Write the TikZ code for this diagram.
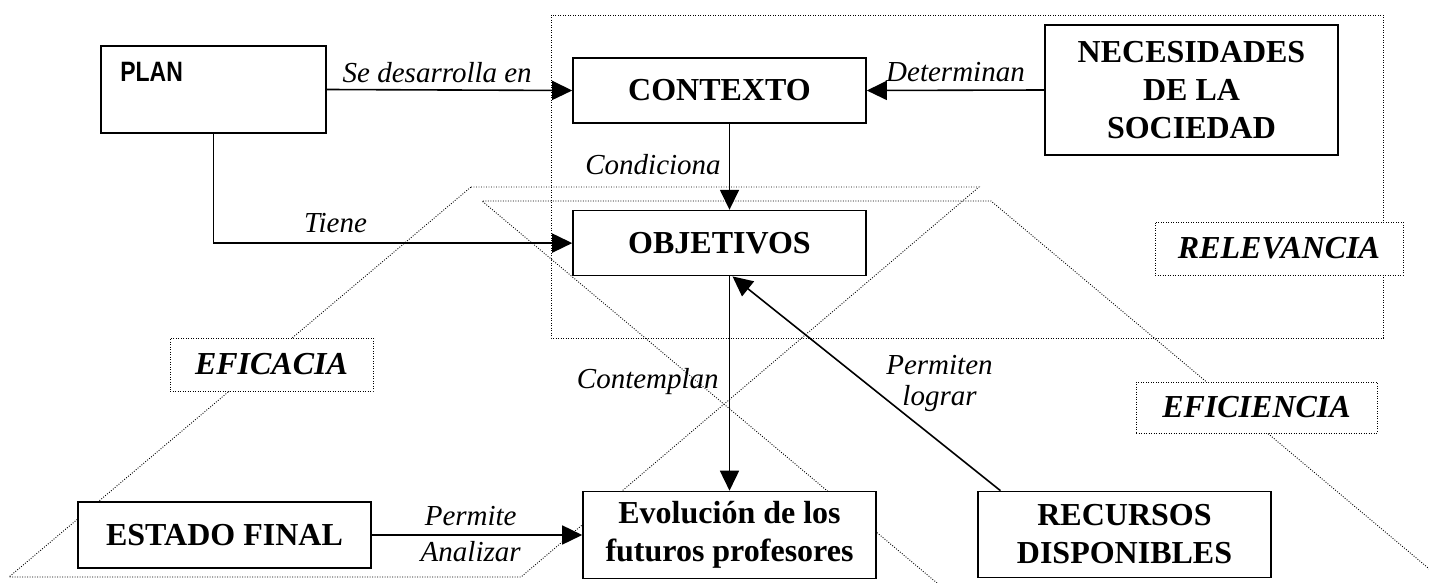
\documentclass[tikz,border=0pt]{standalone}
\usepackage{fontspec}
\setmainfont{Liberation Serif}
\setsansfont{Liberation Sans}
\usetikzlibrary{positioning,calc,arrows.meta}

\begin{document}
\begin{tikzpicture}[x=1pt,y=-1pt,
    box/.style={draw,line width=1.6pt,fill=white,inner sep=0,minimum width=293pt,minimum height=65pt,align=center,font=\fontsize{32}{38}\selectfont\bfseries},
    zone/.style={line width=0.9pt,dash pattern=on 0.9pt off 1.6pt},
    zonelab/.style={zone,draw,fill=white,inner sep=0,minimum height=53pt,font=\fontsize{32}{38}\selectfont\bfseries\itshape},
    rel/.style={line width=1.6pt,-{Triangle[length=20pt,width=19pt]}},
    lab/.style={font=\fontsize{29}{31}\selectfont\itshape,inner sep=8pt}]

    \useasboundingbox (0,0) rectangle (1429,583);

    % dotted zones
    \draw[zone] (551,15) rectangle (1383,338);
    \draw[zone] (471,187) -- (979,187) -- (521,577) -- (9,577) -- cycle;
    \draw[zone] (937,583) -- (482,201) -- (991,201) -- (1446,583);

    % boxes
    \node[box,minimum width=225pt,minimum height=87pt] (plan) at (213.5,89.5) {};
    \node[font=\sffamily\bfseries\fontsize{28}{32}\selectfont,anchor=west,inner sep=0,xscale=0.82] (plantxt) at ([xshift=20pt,yshift=-27pt]plan.north west) {PLAN};
    \node[box] (contexto) at (719.5,90.5) {CONTEXTO};
    \node[box,minimum height=130pt] (necesidades) at (1191.5,90) {NECESIDADES\\DE LA\\SOCIEDAD};
    \node[box,below=86pt of contexto] (objetivos) {OBJETIVOS};
    \node[box,minimum height=66pt] (estado) at (224.5,535) {ESTADO FINAL};
    \node[box,minimum height=87pt] (evolucion) at (729.5,535) {Evolución de los\\futuros profesores};
    \node[box,minimum height=86pt] (recursos) at (1124.5,534.5) {RECURSOS\\DISPONIBLES};

    % lines and text
    \draw[rel] (plan.east) -- node[lab,above,pos=0.45,inner sep=6pt] {Se desarrolla en} (contexto.west);
    \draw[rel] (necesidades.west) -- node[lab,above] {Determinan} (contexto.east);
    \draw[rel] ([xshift=10pt]contexto.south) -- node[lab,left,pos=0.47] {Condiciona} ([xshift=10pt]objetivos.north);
    \draw[rel] (plan.south) |- node[lab,above,pos=0.67,inner sep=10pt] {Tiene} (objetivos.west);
    \draw[rel] ([xshift=10pt]objetivos.south) -- node[lab,left,pos=0.49,inner sep=10pt] {Contemplan} (evolucion.north);
    \draw[rel] ([xshift=-124pt]recursos.north) -- node[lab,align=center,pos=0.5,xshift=73pt,inner sep=0] {Permiten\\lograr} ([xshift=13pt]objetivos.south);
    \draw[rel] (estado.east) -- node[lab,above,pos=0.47] {Permite} node[lab,below,pos=0.47,inner sep=6pt] {Analizar} (evolucion.west);

    % zone labels
    \foreach \nm/\bw/\bh/\at/\txt in {relevancia/248/53/{(1279,248.5)}/RELEVANCIA,eficacia/203/53/{(271.5,364.5)}/EFICACIA,eficiencia/241/51/{(1256.5,407.5)}/EFICIENCIA}
    {
        \node[zonelab,minimum width=\bw pt,minimum height=\bh pt] (\nm) at \at {\txt};
    }
\end{tikzpicture}
\end{document}
